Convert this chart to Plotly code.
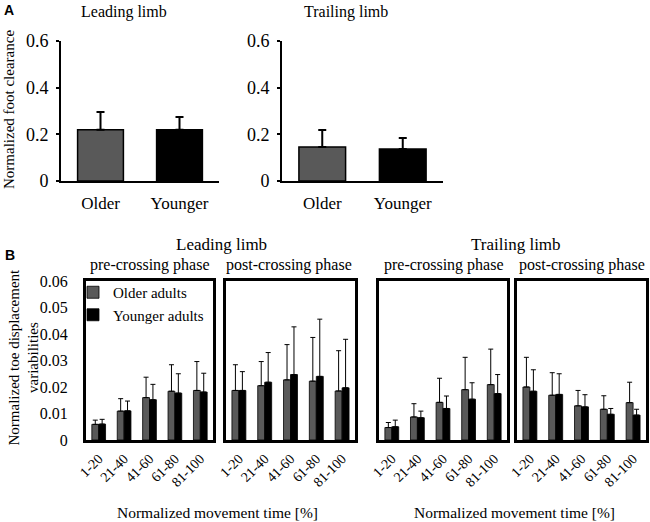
import plotly.graph_objects as go

# ---------------- data ----------------
groups_A = ["Older", "Younger"]
lead_A = [0.22, 0.22]
lead_A_sd = [0.076, 0.054]
trail_A = [0.146, 0.137]
trail_A_sd = [0.073, 0.047]

periods = ["1-20", "21-40", "41-60", "61-80", "81-100"]

lead_pre_old = [0.0059, 0.0109, 0.0160, 0.0184, 0.0187]
lead_pre_old_sd = [0.0016, 0.0047, 0.0077, 0.0100, 0.0109]
lead_pre_young = [0.0060, 0.0110, 0.0152, 0.0177, 0.0181]
lead_pre_young_sd = [0.0018, 0.0037, 0.0058, 0.0073, 0.0071]

lead_post_old = [0.0187, 0.0205, 0.0227, 0.0222, 0.0185]
lead_post_old_sd = [0.0097, 0.0091, 0.0133, 0.0165, 0.0152]
lead_post_young = [0.0187, 0.0218, 0.0247, 0.0240, 0.0197]
lead_post_young_sd = [0.0071, 0.0112, 0.0180, 0.0216, 0.0183]

trail_pre_old = [0.0047, 0.0087, 0.0142, 0.0190, 0.0209]
trail_pre_old_sd = [0.0019, 0.0050, 0.0091, 0.0122, 0.0134]
trail_pre_young = [0.0050, 0.0084, 0.0119, 0.0154, 0.0175]
trail_pre_young_sd = [0.0025, 0.0025, 0.0047, 0.0062, 0.0072]

trail_post_old = [0.0200, 0.0169, 0.0129, 0.0116, 0.0141]
trail_post_old_sd = [0.0112, 0.0085, 0.0058, 0.0051, 0.0077]
trail_post_young = [0.0184, 0.0172, 0.0125, 0.0097, 0.0094]
trail_post_young_sd = [0.0081, 0.0078, 0.0046, 0.0022, 0.0022]

GREY = "#595959"
BLACK = "#000000"
FONT = "Liberation Serif"
W, H = 650, 522


def px(x):
    return x / W


def py(y):
    return 1 - y / H


fig = go.Figure()

# ---------------- panel A ----------------
for i, (vals, sds) in enumerate([(lead_A, lead_A_sd), (trail_A, trail_A_sd)]):
    n = "" if i == 0 else str(i + 1)
    fig.add_trace(go.Bar(
        x=groups_A, y=vals, width=0.58,
        marker=dict(color=[GREY, BLACK], line=dict(color=BLACK, width=1.5)),
        error_y=dict(type="data", symmetric=False, array=sds,
                     arrayminus=[0] * len(sds), color=BLACK, thickness=2, width=4),
        showlegend=False, xaxis="x" + n, yaxis="y" + n,
    ))

# ---------------- panel B ----------------
B_sets = [
    (lead_pre_old, lead_pre_old_sd, lead_pre_young, lead_pre_young_sd),
    (lead_post_old, lead_post_old_sd, lead_post_young, lead_post_young_sd),
    (trail_pre_old, trail_pre_old_sd, trail_pre_young, trail_pre_young_sd),
    (trail_post_old, trail_post_old_sd, trail_post_young, trail_post_young_sd),
]
for k, (o, osd, yv, ysd) in enumerate(B_sets):
    n = str(k + 3)
    for name, vals, sds, col in [("Older adults", o, osd, GREY),
                                 ("Younger adults", yv, ysd, BLACK)]:
        fig.add_trace(go.Bar(
            x=periods, y=vals, name=name,
            marker=dict(color=col, line=dict(color=BLACK, width=0.8)),
            error_y=dict(type="data", symmetric=False, array=sds,
                         arrayminus=[0] * len(sds), color=BLACK, thickness=1, width=2.5),
            showlegend=(k == 0), xaxis="x" + n, yaxis="y" + n,
        ))

layout = dict(
    template="none",
    width=W, height=H,
    margin=dict(l=0, r=0, t=0, b=0, autoexpand=False),
    paper_bgcolor="white", plot_bgcolor="white",
    font=dict(family=FONT, color="black", size=15),
    barmode="group", bargap=0.46, bargroupgap=0,
    legend=dict(x=px(73), y=py(276), xanchor="left", yanchor="top",
                bgcolor="rgba(0,0,0,0)", borderwidth=0,
                font=dict(size=15, family=FONT, color="black"),
                tracegroupgap=0),
)

# A axes
A_dom = [(61, 219), (282, 443)]
for i, (x0, x1) in enumerate(A_dom):
    n = "" if i == 0 else str(i + 1)
    layout["xaxis" + n] = dict(
        domain=[px(x0), px(x1)], anchor="y" + n, range=[-0.5, 1.5],
        automargin=False,
        showline=True, linewidth=2, linecolor="black", ticks="",
        showgrid=False, zeroline=False,
        tickfont=dict(size=17, family=FONT, color="black"),
        ticklabelstandoff=6,
    )
    layout["yaxis" + n] = dict(
        domain=[py(181), py(41)], anchor="x" + n, range=[0, 0.6],
        automargin=False,
        tickvals=[0, 0.2, 0.4, 0.6], ticktext=["0", "0.2", "0.4", "0.6"],
        showline=True, linewidth=2, linecolor="black",
        ticks="outside", ticklen=3, tickwidth=1.5, tickcolor="black",
        showgrid=False, zeroline=False,
        tickfont=dict(size=18, family=FONT, color="black"),
        ticklabelstandoff=4,
    )

# B axes
B_dom = [(86, 213), (226, 355), (379, 507), (517, 646)]
for k, (x0, x1) in enumerate(B_dom):
    n = str(k + 3)
    layout["xaxis" + n] = dict(
        domain=[px(x0), px(x1)], anchor="y" + n, range=[-0.5, 4.5],
        automargin=False,
        showline=True, mirror=True, linewidth=3, linecolor="black",
        ticks="", showgrid=False, zeroline=False, tickangle=-45,
        tickfont=dict(size=14, family=FONT, color="black"),
        ticklabelstandoff=2,
    )
    layout["yaxis" + n] = dict(
        domain=[py(440), py(281)], anchor="x" + n, range=[0, 0.06],
        automargin=False,
        tickvals=[0, 0.01, 0.02, 0.03, 0.04, 0.05, 0.06],
        ticktext=["0", "0.01", "0.02", "0.03", "0.04", "0.05", "0.06"],
        showline=True, mirror=True, linewidth=3, linecolor="black",
        ticks="", showgrid=False, zeroline=False,
        showticklabels=(k == 0),
        tickfont=dict(size=16, family=FONT, color="black"),
        ticklabelstandoff=12,
    )

ann = []


def add_text(text, x, y, size=15, angle=0, family=FONT, bold=False):
    ann.append(dict(
        text=("<b>%s</b>" % text) if bold else text,
        x=px(x), y=py(y), xref="paper", yref="paper",
        xanchor="center", yanchor="middle", showarrow=False,
        textangle=angle, font=dict(size=size, family=family, color="black"),
    ))


add_text("A", 9, 10.5, size=14, family="Liberation Sans", bold=True)
add_text("B", 10, 255, size=14, family="Liberation Sans", bold=True)
add_text("Leading limb", 124, 12, size=16)
add_text("Trailing limb", 346, 12, size=16)
add_text("Normalized foot clearance", 9, 110, size=15, angle=-90)

add_text("Leading limb", 221, 245, size=17)
add_text("Trailing limb", 516, 245, size=17)
add_text("pre-crossing phase", 150, 265, size=16)
add_text("post-crossing phase", 289, 265, size=16)
add_text("pre-crossing phase", 444, 265, size=16)
add_text("post-crossing phase", 582, 265, size=16)
add_text("Normalized toe displacement<br>variabilities", 23.5, 357, size=15, angle=-90)
add_text("Normalized movement time [%]", 217, 512, size=15.5)
add_text("Normalized movement time [%]", 514, 512, size=15.5)

layout["annotations"] = ann
fig.update_layout(**layout)
fig.write_html(
    "out.html",
    config={"displayModeBar": False},
    post_script="document.body.style.margin='0';document.body.style.overflow='hidden';",
)
